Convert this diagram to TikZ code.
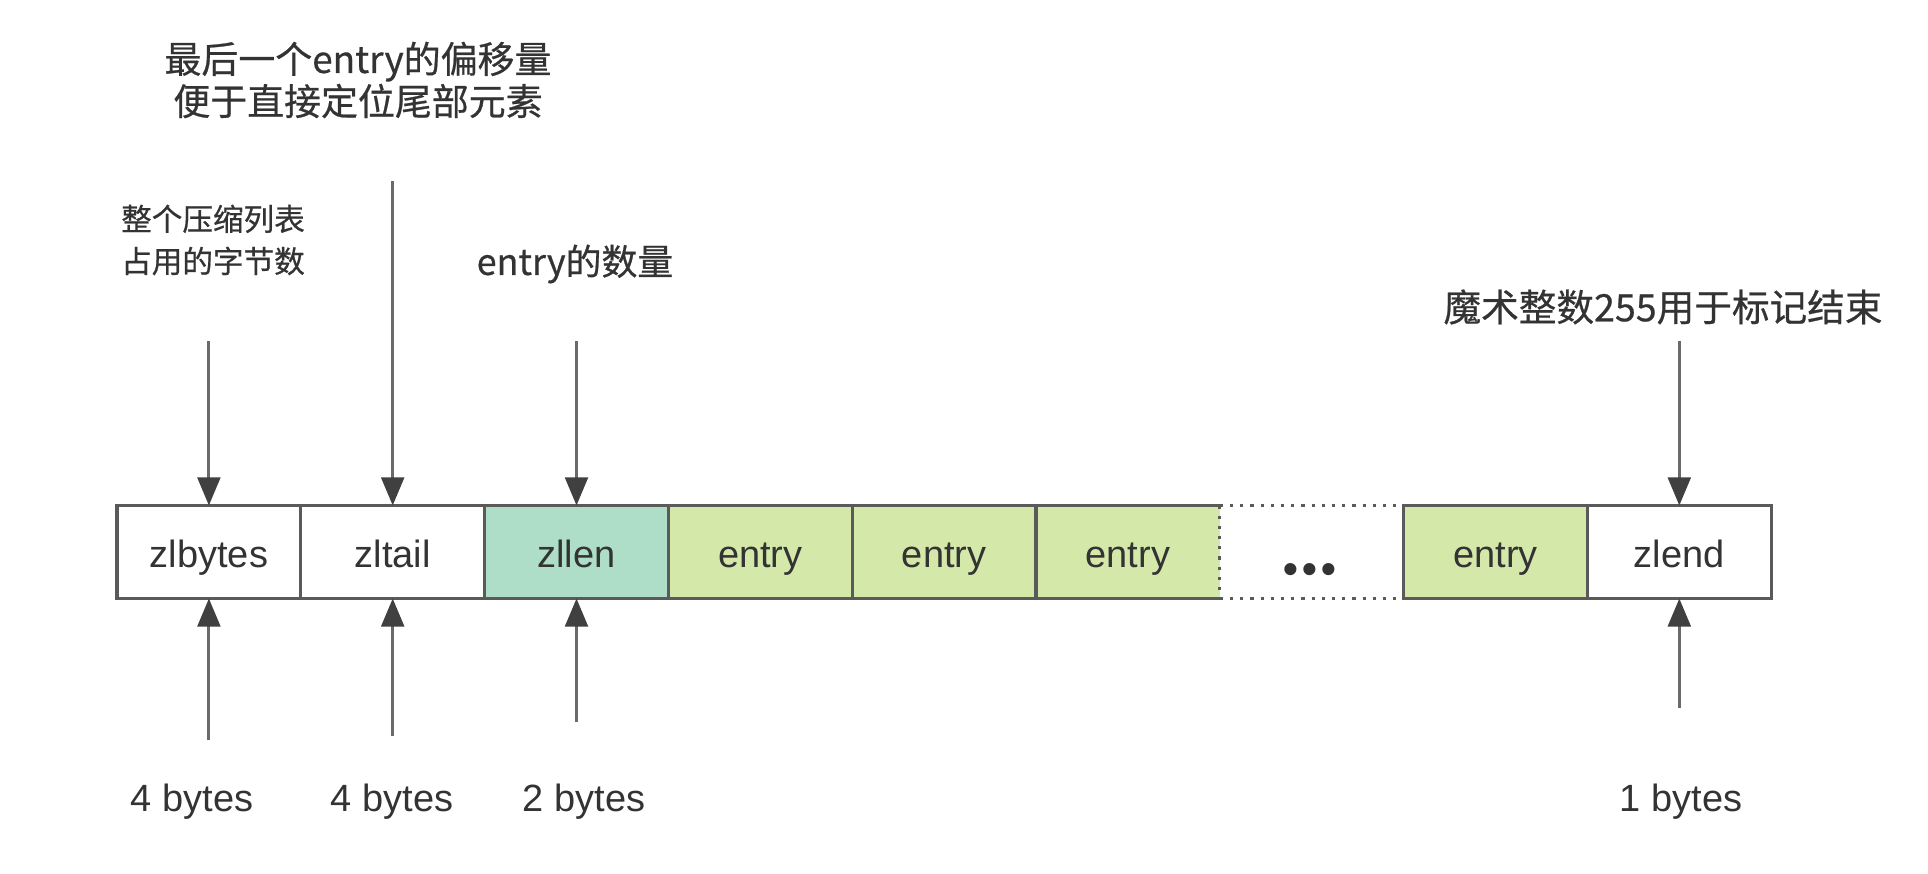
\documentclass[tikz,border=0pt]{standalone}
\usepackage{fontspec}
\setmainfont{Liberation Sans}
\newfontfamily\cjk{Noto Sans CJK SC}[FakeBold=0.6]
\usetikzlibrary{arrows.meta}
\definecolor{txt}{HTML}{333333}
\definecolor{edge}{HTML}{5A5A5A}
\definecolor{arr}{HTML}{6A6A6A}
\definecolor{head}{HTML}{404040}
\definecolor{lenfill}{HTML}{AEDDC8}
\definecolor{entfill}{HTML}{D4E8AA}
\tikzset{
  cell/.style={draw=edge, line width=0.9pt, outer sep=0pt, minimum width=1.838cm, minimum height=0.93cm, inner sep=0pt, text height=9pt, text depth=0.4pt, font=\fontsize{10.8}{12}\selectfont, text=txt},
  lbl/.style={font=\fontsize{10.8}{12}\selectfont, text=txt, inner sep=0pt},
  note/.style={text=txt, inner sep=0pt, align=center},
  ptr/.style={draw=arr, line width=0.8pt, -{Triangle[length=8pt,width=6.5pt,color=head]}}
}
\begin{document}
\begin{tikzpicture}[x=0.01cm,y=-0.01cm]
\useasboundingbox (0,0) rectangle (1928,874);
% cells
\node[cell] (c0) at (208.9,552) {zlbytes};
\node[cell] (c1) at (392.7,552) {zltail};
\node[cell, fill=lenfill] (c2) at (576.5,552) {zllen};
\node[cell, fill=entfill] (c3) at (760.3,552) {entry};
\node[cell, fill=entfill] (c4) at (944.1,552) {entry};
\node[cell, fill=entfill, draw=none] (c5) at (1127.9,552) {entry};
\node[cell, draw=none] (c6) at (1311.7,552) {};
\node[cell, fill=entfill] (c7) at (1495.5,552) {entry};
\node[cell] (c8) at (1679.3,552) {zlend};
\draw[edge, line width=0.9pt] (c5.north east) -- (c5.north west) -- (c5.south west) -- (c5.south east);
\draw[edge, line width=0.9pt, dotted] (c5.north east) -- (c5.south east);
\draw[edge, line width=0.9pt, dotted] (c6.north west) -- (c6.north east);
\draw[edge, line width=0.9pt, dotted] (c6.south west) -- (c6.south east);
\node[lbl, font=\fontsize{12}{12}\selectfont\bfseries] (dots) at (1310,574) {•\kern1.1pt•\kern1.1pt•};
% top notes
\node[note, font=\cjk\fontsize{8.7}{12}\selectfont] (n0) at (213,240) {整个压缩列表\\占用的字节数};
\node[note, font=\cjk\fontsize{10.5}{12}\selectfont] (n1) at (358,80) {最后一个entry的偏移量\\便于直接定位尾部元素};
\node[note, font=\cjk\fontsize{10.2}{12}\selectfont] (n2) at (575,264) {entry的数量};
\node[note, font=\cjk\fontsize{10.7}{12}\selectfont] (n3) at (1663,307) {魔术整数255用于标记结束};
\coordinate (t0) at (208.9,341);
\coordinate (t1) at (392.7,181);
\coordinate (t2) at (576.5,341);
\coordinate (t3) at (1679.3,341);
\draw[ptr] (t0) -- (c0.north);
\draw[ptr] (t1) -- (c1.north);
\draw[ptr] (t2) -- (c2.north);
\draw[ptr] (t3) -- (c8.north);
% bottom
\coordinate (b0) at (208.9,740);
\coordinate (b1) at (392.7,736);
\coordinate (b2) at (576.5,722);
\coordinate (b3) at (1679.3,708);
\draw[ptr] (b0) -- (c0.south);
\draw[ptr] (b1) -- (c1.south);
\draw[ptr] (b2) -- (c2.south);
\draw[ptr] (b3) -- (c8.south);
\node[lbl] (s0) at (192,802) {4 bytes};
\node[lbl] (s1) at (392,802) {4 bytes};
\node[lbl] (s2) at (584,802) {2 bytes};
\node[lbl] (s3) at (1681,802) {1 bytes};
\end{tikzpicture}
\end{document}
